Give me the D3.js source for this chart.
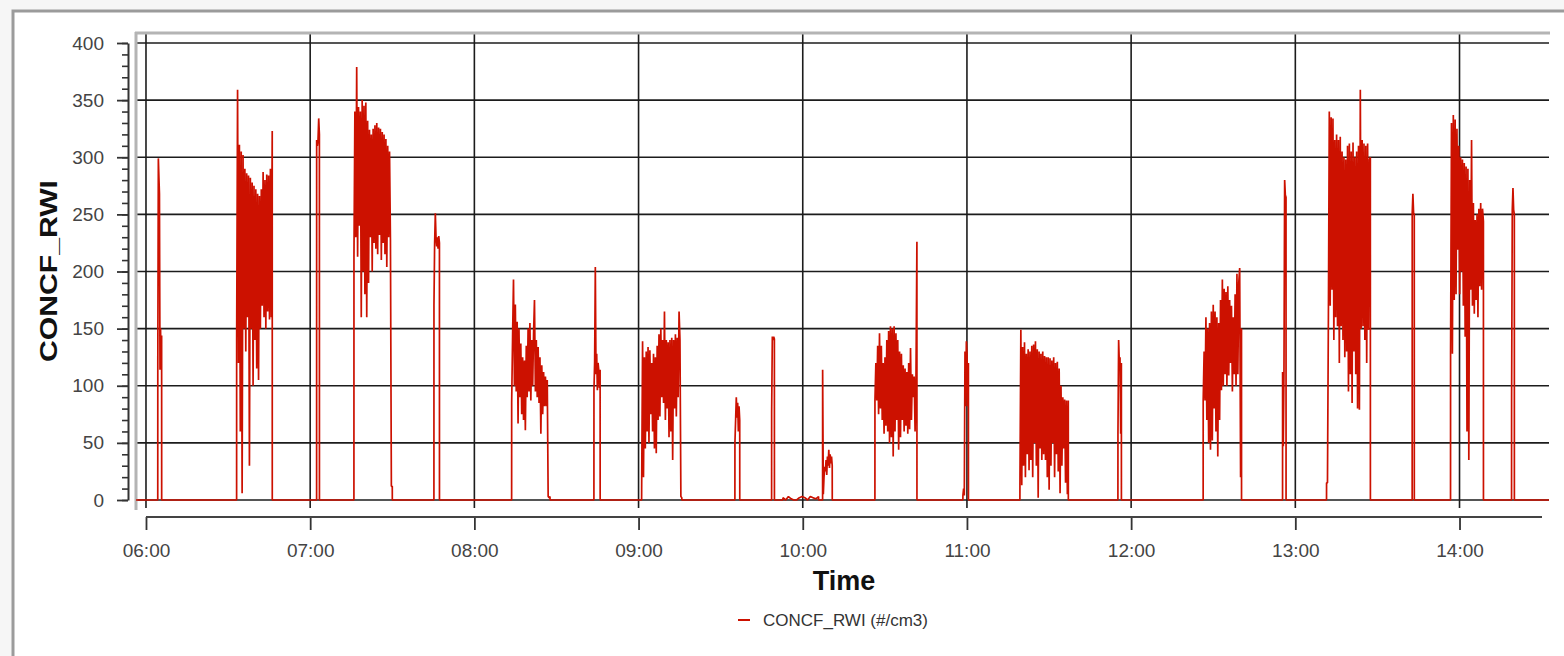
<!DOCTYPE html>
<html>
<head>
<meta charset="utf-8">
<script src="https://cdn.jsdelivr.net/npm/d3@7"></script>
<style>
  body { margin: 0; background: #f6f6f6; }
  svg { display: block; font-family: "Liberation Sans", Arial, sans-serif; }
</style>
</head>
<body>
<script>
// time window shown on the x axis
var timeDomain = ["05:56:21", "14:32:42"];
var hourTicks = ["06:00", "07:00", "08:00", "09:00", "10:00", "11:00", "12:00", "13:00", "14:00"];
var yTicks = [0, 50, 100, 150, 200, 250, 300, 350, 400];
var seriesName = "CONCF_RWI (#/cm3)";

// each measurement burst: start time, sample step (s), sampled values
var burstStart = ["06:04:19", "06:33:08", "07:02:22", "07:16:00", "07:45:14", "08:13:38",
                  "08:43:42", "09:01:08", "09:35:13", "09:48:38", "09:52:46", "10:07:16",
                  "10:26:23", "10:58:32", "11:19:22", "11:55:11", "12:26:20", "12:55:21",
                  "13:11:25", "13:42:43", "13:56:44", "14:19:02"];
var burstStep = [12, 20, 15, 20, 15, 20, 15, 20, 15, 15, 60, 15, 20, 15, 20, 15, 20, 15, 20, 15, 20, 15];
var burstValues = [
  [120, 299, 283, 268, 114, 150, 118, 144],
  [140, 359, 120, 311, 60, 305, 6, 302, 150, 290, 130, 286, 160, 284, 30, 282, 150, 278, 100, 275,
   140, 272, 115, 268, 105, 266, 150, 272, 170, 287, 160, 280, 150, 285, 165, 284, 158, 290, 160, 323],
  [315, 310, 315, 334, 320],
  [213, 340, 230, 379, 213, 344, 240, 340, 160, 350, 200, 345, 180, 348, 160, 332, 190, 324, 230, 320,
   200, 325, 225, 328, 220, 330, 215, 326, 232, 325, 210, 322, 225, 320, 215, 316, 204, 310, 230, 305,
   227, 12, 12],
  [171, 225, 251, 230, 222, 230, 220, 231, 225],
  [85, 143, 193, 100, 171, 95, 156, 67, 150, 90, 137, 75, 125, 70, 122, 61, 135, 90, 150, 95,
   155, 87, 140, 100, 145, 175, 95, 140, 90, 134, 85, 125, 58, 118, 75, 112, 82, 108, 82, 105,
   3, 2, 3],
  [96, 121, 204, 110, 128, 96, 120, 114, 98, 114],
  [9, 139, 20, 125, 45, 130, 60, 134, 50, 131, 75, 120, 60, 128, 45, 125, 41, 135, 70, 145,
   73, 150, 90, 140, 85, 165, 70, 140, 80, 138, 55, 140, 60, 142, 35, 140, 80, 145, 73, 142,
   90, 165, 140, 3, 2],
  [50, 70, 90, 72, 85, 60, 82, 70],
  [77, 143, 140, 143, 141],
  [2, 0, 3, 1, 0, 0, 2, 3, 2, 0, 3, 2, 1, 3],
  [114, 5, 20, 29, 25, 35, 22, 38, 30, 44, 28, 40, 32, 38, 30],
  [87, 120, 87, 135, 75, 146, 80, 135, 70, 120, 58, 125, 65, 140, 60, 148, 50, 152, 55, 150,
   38, 152, 60, 146, 70, 140, 44, 130, 55, 128, 70, 118, 60, 115, 65, 112, 58, 120, 62, 133,
   70, 110, 90, 108, 60, 108, 226],
  [4, 10, 4, 130, 82, 139, 128, 82, 120],
  [13, 149, 13, 134, 30, 138, 20, 128, 40, 132, 26, 130, 35, 135, 20, 136, 50, 139, 30, 132,
   2, 130, 45, 128, 35, 130, 40, 126, 35, 125, 20, 125, 9, 124, 30, 122, 50, 125, 20, 120,
   40, 121, 25, 115, 6, 100, 30, 90, 45, 88, 15, 87, 5, 87],
  [58, 140, 120, 125, 58, 120],
  [87, 130, 87, 160, 70, 150, 50, 155, 44, 165, 52, 171, 80, 165, 60, 160, 38, 155, 70, 175,
   96, 193, 100, 185, 110, 182, 100, 187, 109, 175, 120, 170, 95, 160, 110, 180, 100, 198, 110, 190,
   203, 20, 150],
  [112, 47, 112, 280, 267, 265],
  [15, 15, 160, 340, 170, 335, 184, 334, 140, 315, 160, 320, 152, 315, 120, 318, 152, 305, 140, 300,
   125, 298, 130, 310, 95, 312, 110, 305, 85, 313, 130, 300, 110, 305, 80, 310, 79, 359, 150, 315,
   152, 312, 140, 310, 120, 312, 149, 298, 300],
  [251, 268, 251, 250],
  [128, 330, 128, 337, 175, 333, 180, 325, 219, 310, 180, 300, 200, 298, 170, 295, 143, 292, 60, 290,
   35, 280, 184, 315, 170, 260, 163, 245, 175, 250, 160, 255, 187, 260, 184, 255, 244],
  [87, 254, 273, 254, 250]
];

var W = 1564, H = 656;
var parseT = d3.timeParse("%H:%M:%S"),
    parseH = d3.timeParse("%H:%M");
var red = "#cc1100";

var svg = d3.select("body").append("svg")
    .attr("width", W)
    .attr("height", H);

// outer frame
svg.append("rect")
    .attr("x", 13).attr("y", 11)
    .attr("width", W + 10).attr("height", H + 10)
    .attr("fill", "#fff")
    .attr("stroke", "#9b9b9b")
    .attr("stroke-width", 3);

var x = d3.scaleTime()
    .domain(timeDomain.map(parseT))
    .range([136, 1549]);
var y = d3.scaleLinear()
    .domain([0, 400])
    .range([500, 43]);

// build the series: zero between bursts, sharp rises at each burst
var points = [{t: x.domain()[0], v: 0}];
burstStart.forEach(function(s, i) {
  var t0 = parseT(s), step = burstStep[i] * 1000;
  points.push({t: new Date(+t0 - 1000), v: 0});
  burstValues[i].forEach(function(v, j) {
    points.push({t: new Date(+t0 + j * step), v: v});
  });
  points.push({t: new Date(+t0 + (burstValues[i].length - 1) * step + 1000), v: 0});
});
points.push({t: x.domain()[1], v: 0});

var hours = hourTicks.map(parseH);

// grid
var grid = svg.append("g");
grid.selectAll(".hg")
    .data(yTicks)
  .enter().append("line")
    .attr("x1", x.range()[0]).attr("x2", x.range()[1])
    .attr("y1", function(d) { return y(d); })
    .attr("y2", function(d) { return y(d); })
    .attr("stroke", "#1c1c1c")
    .attr("stroke-width", 1.6);
grid.selectAll(".vg")
    .data(hours)
  .enter().append("line")
    .attr("x1", function(d) { return x(d); })
    .attr("x2", function(d) { return x(d); })
    .attr("y1", 33).attr("y2", 508)
    .attr("stroke", "#1c1c1c")
    .attr("stroke-width", 1.6);

// plot frame (top and left grey edges)
svg.append("line")
    .attr("x1", x.range()[0] - 1).attr("x2", x.range()[1] + 1)
    .attr("y1", 33).attr("y2", 33)
    .attr("stroke", "#b4b4b4").attr("stroke-width", 3);
svg.append("line")
    .attr("x1", x.range()[0]).attr("x2", x.range()[0])
    .attr("y1", 32).attr("y2", 510)
    .attr("stroke", "#b4b4b4").attr("stroke-width", 3);

// data line
svg.append("path")
    .datum(points)
    .attr("fill", "none")
    .attr("stroke", red)
    .attr("stroke-width", 1.7)
    .attr("stroke-linejoin", "bevel")
    .attr("d", d3.line()
      .x(function(d) { return x(d.t); })
      .y(function(d) { return y(d.v); }));

// y axis: major + minor ticks
var yAxisX = 128;
svg.append("g")
    .attr("transform", "translate(" + yAxisX + ",0)")
    .call(d3.axisLeft(y).tickValues(d3.range(0, 401, 10)).tickSize(6).tickFormat(""))
    .call(function(g) { g.select(".domain").remove(); })
    .selectAll("line").attr("stroke", "#333").attr("stroke-width", 1.6);
var yAxis = svg.append("g")
    .attr("transform", "translate(" + yAxisX + ",0)")
    .call(d3.axisLeft(y).tickValues(yTicks).tickSize(11).tickPadding(13).tickSizeOuter(0));
yAxis.select(".domain").attr("stroke", "#333").attr("stroke-width", 2);
yAxis.selectAll("line").attr("stroke", "#333").attr("stroke-width", 1.8);
yAxis.selectAll("text")
    .attr("font-size", "19px")
    .attr("font-family", "Liberation Sans, Arial, sans-serif")
    .attr("fill", "#444");

// x axis
var xAxis = svg.append("g")
    .attr("transform", "translate(0,517)")
    .call(d3.axisBottom(x).tickValues(hours).tickSize(13).tickPadding(14)
      .tickFormat(d3.timeFormat("%H:%M")));
xAxis.select(".domain").remove();
xAxis.append("line")
    .attr("x1", x(hours[0])).attr("x2", x.range()[1] - 7)
    .attr("stroke", "#444").attr("stroke-width", 2);
xAxis.selectAll(".tick line").attr("stroke", "#333").attr("stroke-width", 1.8);
xAxis.selectAll("text")
    .attr("font-size", "19px")
    .attr("font-family", "Liberation Sans, Arial, sans-serif")
    .attr("fill", "#444");

// axis titles
svg.append("text")
    .attr("x", 844).attr("y", 590)
    .attr("text-anchor", "middle")
    .attr("font-size", "27px")
    .attr("font-weight", 700)
    .attr("fill", "#111")
    .text("Time");
svg.append("text")
    .attr("transform", "translate(57,271) rotate(-90)")
    .attr("text-anchor", "middle")
    .attr("font-size", "24px")
    .attr("font-weight", 700)
    .attr("fill", "#111")
    .attr("textLength", 182)
    .attr("lengthAdjust", "spacingAndGlyphs")
    .text("CONCF_RWI");

// legend
var legend = svg.append("g").attr("transform", "translate(738,620)");
legend.append("line")
    .attr("x1", 0).attr("x2", 12)
    .attr("stroke", red).attr("stroke-width", 2);
legend.append("text")
    .attr("x", 25).attr("y", 6)
    .attr("font-size", "17px")
    .attr("fill", "#333")
    .text(seriesName);
</script>
</body>
</html>
